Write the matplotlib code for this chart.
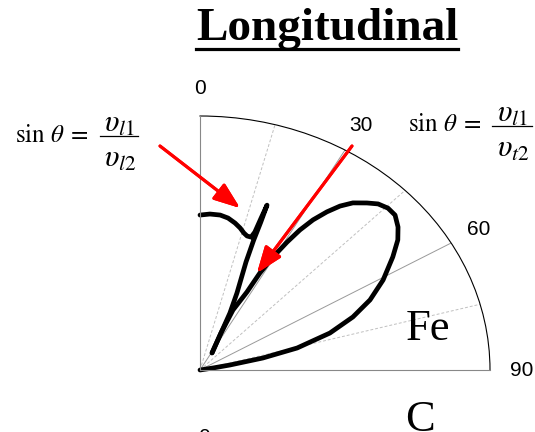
import numpy as np
import matplotlib
matplotlib.use('Agg')
import matplotlib.pyplot as plt
from matplotlib.lines import Line2D

plt.rcParams['mathtext.fontset'] = 'stix'

# angle (deg, from the surface normal) and relative amplitude
lobe_theta = [82, 80, 79.2, 77.7, 75.5, 72.0, 68.4, 64.8, 60.7, 56.2, 53.1, 50.5,
              47.8, 45.5, 43.2, 41.2, 38.7, 36.8, 35.1, 33.4, 32.0, 30.8, 29.5, 28.4,
              27.8, 25.7, 26.4, 31.7]
lobe_r = [0, 0.045, 0.105, 0.222, 0.346, 0.471, 0.567, 0.648, 0.724, 0.800, 0.853, 0.885,
          0.908, 0.909, 0.897, 0.874, 0.843, 0.806, 0.761, 0.708, 0.650, 0.586, 0.511, 0.434,
          0.347, 0.262, 0.163, 0.079]

spike_theta = [0, 3.2, 6.5, 9.2, 11.8, 13.9, 15.7, 17.1, 18.6, 19.2, 19.4, 19.6,
               19.8, 19.9, 20.46, 22.8, 24.7, 26.4, 31.7]
spike_r = [0.61, 0.615, 0.614, 0.606, 0.591, 0.576, 0.560, 0.552, 0.552, 0.575, 0.634, 0.689,
           0.618, 0.543, 0.454, 0.329, 0.247, 0.163, 0.079]

major_ticks = [0, 30, 60, 90]
minor_ticks = [15, 45, 75]
tick_labels = ['0', '30', '60', '90']

W, H = 535, 432
fig = plt.figure(figsize=(W / 100, H / 100), dpi=100)


def px(x, y):
    # pixel position (from top-left) -> figure fraction
    return x / W, 1 - y / H


# polar quadrant, stretched to the axes box
ax = fig.add_axes([200 / W, 62 / H, 290 / W, 254 / H], projection='polar')
ax.set_theta_zero_location('N')
ax.set_theta_direction(-1)
ax.set_thetamin(0)
ax.set_thetamax(90)
ax.set_rlim(0, 1)
ax.set_aspect('auto')

ax.set_xticks(np.radians(major_ticks))
ax.set_xticks(np.radians(minor_ticks), minor=True)
ax.set_xticklabels([])
ax.set_yticks([])
ax.grid(which='major', axis='x', color='#999999', lw=0.7, ls='-')
ax.grid(which='minor', axis='x', color='#c0c0c0', lw=0.7, ls=(0, (3, 2)))
ax.tick_params(axis='x', which='both', direction='in', length=4, color='#555555')

ax.spines['polar'].set_color('black')
ax.spines['polar'].set_linewidth(0.8)
for side in ['start', 'end']:
    ax.spines[side].set_color('#888888')
    ax.spines[side].set_linewidth(0.8)

for ang, lab in zip(major_ticks, tick_labels):
    ax.text(np.radians(ang), 1.11, lab, ha='center', va='center',
            fontsize=15, family='Liberation Sans', clip_on=False)

ax.plot(np.radians(lobe_theta), lobe_r, color='black', lw=3.4,
        solid_capstyle='round', solid_joinstyle='round', clip_on=False)
ax.plot(np.radians(spike_theta), spike_r, color='black', lw=3.4,
        solid_capstyle='round', solid_joinstyle='round', clip_on=False)

# arrows pointing at the two critical angles
arrow = dict(arrowstyle='-|>,head_length=0.8,head_width=0.3', color='red',
             lw=2.2, shrinkA=0, shrinkB=0, mutation_scale=20)
fig.add_artist(plt.annotate('', xy=(240, H - 208), xytext=(160, H - 146),
                            xycoords='figure pixels', textcoords='figure pixels',
                            arrowprops=arrow))
fig.add_artist(plt.annotate('', xy=(257, H - 273), xytext=(352, H - 146),
                            xycoords='figure pixels', textcoords='figure pixels',
                            arrowprops=arrow))

# title with underline
title = fig.text(*px(327, 40), 'Longitudinal', ha='center', va='baseline',
                 fontsize=34, fontweight='bold', family='Liberation Serif')
fig.canvas.draw()
bb = title.get_window_extent()
fig.add_artist(Line2D([bb.x0 / W, bb.x1 / W], [1 - 48.5 / H, 1 - 48.5 / H],
                      transform=fig.transFigure, color='black', lw=2.3))


def snell(x0, yb, bar_x0, bar_x1, bar_y, num, den):
    # sin(theta) = num / den, built from pieces so the fraction is full size
    fig.text(*px(x0, yb), r'$\sin\,\theta\;=$', ha='left', va='baseline', fontsize=18)
    xc = (bar_x0 + bar_x1) / 2
    fig.text(*px(xc, bar_y - 4), num, ha='center', va='baseline', fontsize=22)
    fig.text(*px(xc + 1, bar_y + 31), den, ha='center', va='baseline', fontsize=22)
    fig.add_artist(Line2D([bar_x0 / W, bar_x1 / W], [1 - bar_y / H, 1 - bar_y / H],
                          transform=fig.transFigure, color='black', lw=0.9))


snell(15, 142, 100, 138, 136, r'$\upsilon_{l1}$', r'$\upsilon_{l2}$')
snell(408, 131, 492, 532, 126, r'$\upsilon_{l1}$', r'$\upsilon_{t2}$')

fig.text(*px(406, 340), 'Fe', ha='left', va='baseline',
         fontsize=32, family='Liberation Serif')
fig.text(*px(405, 431), 'C', ha='left', va='baseline',
         fontsize=32, family='Liberation Serif')
fig.text(*px(204, 443), '0', ha='center', va='baseline',
         fontsize=15, family='Liberation Sans')

fig.savefig('out.png', dpi=100)
